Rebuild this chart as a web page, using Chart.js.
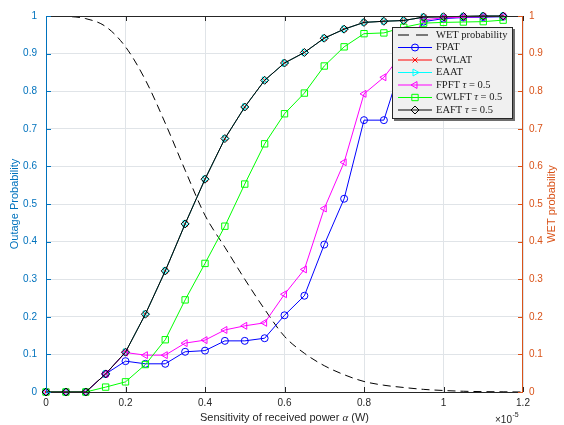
<!DOCTYPE html>
<html><head><meta charset="utf-8">
<script src="https://cdn.jsdelivr.net/npm/chart.js@4.4.0/dist/chart.umd.min.js"></script>
<style>html,body{margin:0;padding:0;background:#fff;}canvas{display:block;}</style>
</head><body>
<canvas id="c" width="564" height="425"></canvas>
<script>
// ---- data (alpha in units of 1e-5 W) ----
const alphaValues = [0,0.05,0.1,0.15,0.2,0.25,0.3,0.35,0.4,0.45,0.5,0.55,0.6,0.65,0.7,0.75,0.8,0.85,0.9,0.95,1.0,1.05,1.1,1.15];
const fpat  = [0,0,0,0.048,0.082,0.075,0.075,0.107,0.110,0.136,0.136,0.143,0.204,0.256,0.392,0.514,0.723,0.723,0.890,0.985,0.993,0.996,0.997,0.998];
const cwlat = [0,0,0,0.048,0.106,0.207,0.322,0.447,0.566,0.674,0.758,0.829,0.875,0.903,0.941,0.965,0.983,0.986,0.988,0.997,0.998,0.999,1,1];
const eaat  = [0,0,0,0.048,0.106,0.207,0.322,0.447,0.566,0.674,0.758,0.829,0.875,0.903,0.941,0.965,0.983,0.986,0.988,0.997,0.998,0.999,1,1];
const fpft  = [0,0,0,0.048,0.105,0.098,0.098,0.130,0.138,0.165,0.176,0.184,0.260,0.326,0.488,0.611,0.793,0.837,0.905,0.990,0.995,0.997,0.998,0.999];
const cwlft = [0,0,0,0.013,0.027,0.073,0.139,0.245,0.342,0.441,0.553,0.660,0.740,0.795,0.867,0.918,0.953,0.955,0.970,0.981,0.983,0.984,0.985,0.989];
const eaft  = [0,0,0,0.048,0.106,0.207,0.322,0.447,0.566,0.674,0.758,0.829,0.875,0.903,0.941,0.965,0.983,0.986,0.988,0.997,0.998,0.999,1,1];
const wetAlpha = [0,0.05,0.1,0.15,0.2,0.25,0.3,0.35,0.4,0.45,0.5,0.55,0.6,0.65,0.7,0.75,0.8,0.85,0.9,0.95,1.0,1.05,1.1,1.15,1.2];
const wetProb  = [1.0,0.999,0.993,0.972,0.918,0.83,0.715,0.59,0.47,0.385,0.30,0.22,0.148,0.103,0.07,0.046,0.028,0.018,0.012,0.007,0.004,0.002,0.001,0.0005,0];
const xTicks = [0,0.2,0.4,0.6,0.8,1,1.2];
const yTicks = [0,0.1,0.2,0.3,0.4,0.5,0.6,0.7,0.8,0.9,1];
const seriesNames = ['WET probability','FPAT','CWLAT','EAAT','FPFT τ = 0.5','CWLFT τ = 0.5','EAFT τ = 0.5'];
const xTitle = ['Sensitivity of received power ', 'α', ' (W)'];
const yTitle = 'Outage Probability';
const y2Title = 'WET probability';

const LEFT = '#0072BD', RIGHT = '#D95319', INK = '#262626', GRID = '#e0e4e8';
const SANS = '"Liberation Sans", Arial, Helvetica, sans-serif';
const SERIF = '"Liberation Serif", "Times New Roman", serif';
const fmt = v => String(Number(Number(v).toFixed(2)));

const pts = arr => arr.map((v,i)=>({x: alphaValues[i], y: v}));
function ds(label, data, color, style, radius, rot, order) {
  return {label, data: pts(data), borderColor: color, backgroundColor: 'rgba(0,0,0,0)',
    borderWidth: 1, pointStyle: style, pointRadius: radius, pointRotation: rot||0,
    pointBorderColor: color, pointBorderWidth: 1, pointBackgroundColor: 'rgba(0,0,0,0)',
    yAxisID: 'y', clip: false, order, tension: 0};
}
const datasets = [
  {label: seriesNames[0], data: wetProb.map((v,i)=>({x: wetAlpha[i], y: v})), borderColor: '#000', borderWidth: 1,
   borderDash: [8,5], pointRadius: 0, yAxisID: 'y2', order: 7, cubicInterpolationMode: 'monotone', fill: false},
  ds(seriesNames[1], fpat,  '#0000ff', 'circle',   3.5, 0,   6),
  ds(seriesNames[2], cwlat, '#ff0000', 'crossRot', 3.5, 0,   5),
  ds(seriesNames[3], eaat,  '#00ffff', 'triangle', 4,   90,  4),
  ds(seriesNames[4], fpft,  '#ff00ff', 'triangle', 4,   270, 3),
  ds(seriesNames[5], cwlft, '#00ff00', 'rect',     4.5, 0,   2),
  ds(seriesNames[6], eaft,  '#000000', 'rectRot',  4,   0,   1)
];

function marker(ctx, style, x, y, r, rot) {
  ctx.beginPath();
  if (style === 'circle') ctx.arc(x, y, r, 0, 2*Math.PI);
  else if (style === 'crossRot') { const d = r*Math.SQRT1_2; ctx.moveTo(x-d,y-d); ctx.lineTo(x+d,y+d); ctx.moveTo(x-d,y+d); ctx.lineTo(x+d,y-d); }
  else if (style === 'triangle') { let a = rot*Math.PI/180; for (let i=0;i<3;i++){ const px=x+Math.sin(a)*r, py=y-Math.cos(a)*r; if(i) ctx.lineTo(px,py); else ctx.moveTo(px,py); a += 2*Math.PI/3; } ctx.closePath(); }
  else if (style === 'rect') { const s = r*Math.SQRT1_2; ctx.rect(x-s, y-s, 2*s, 2*s); }
  else if (style === 'rectRot') { ctx.moveTo(x,y-r); ctx.lineTo(x+r,y); ctx.lineTo(x,y+r); ctx.lineTo(x-r,y); ctx.closePath(); }
  ctx.stroke();
}

const deco = {
  id: 'deco',
  afterDatasetsDraw(chart) {
    const {ctx, chartArea: a, scales} = chart;
    ctx.save();
    ctx.lineWidth = 1;
    const line = (x1,y1,x2,y2) => { ctx.beginPath(); ctx.moveTo(x1,y1); ctx.lineTo(x2,y2); ctx.stroke(); };
    ctx.strokeStyle = INK;
    scales.x.ticks.forEach(t => { const px = Math.round(scales.x.getPixelForValue(t.value)) + 0.5;
      line(px, a.bottom, px, a.bottom-5); line(px, a.top, px, a.top+5); });
    line(a.left, a.bottom+0.5, a.right, a.bottom+0.5);
    line(a.left, a.top+0.5, a.right, a.top+0.5);
    ctx.strokeStyle = LEFT;
    scales.y.ticks.forEach(t => { const py = Math.round(scales.y.getPixelForValue(t.value)) + 0.5; line(a.left, py, a.left+5, py); });
    line(a.left+0.5, a.top, a.left+0.5, a.bottom+1);
    ctx.strokeStyle = RIGHT;
    scales.y2.ticks.forEach(t => { const py = Math.round(scales.y2.getPixelForValue(t.value)) + 0.5; line(a.right, py, a.right-5, py); });
    line(a.right-0.5, a.top, a.right-0.5, a.bottom+1);
    ctx.restore();
  },
  afterDraw(chart) {
    const {ctx, chartArea: a} = chart;
    ctx.save();
    // x title with italic alpha
    const f1 = '11px ' + SANS, f2 = 'italic 11px ' + SERIF;
    ctx.font = f1; const w0 = ctx.measureText(xTitle[0]).width, w2 = ctx.measureText(xTitle[2]).width;
    ctx.font = f2; const w1 = ctx.measureText(xTitle[1]).width;
    let x = (a.left + a.right)/2 - (w0+w1+w2)/2;
    ctx.fillStyle = INK; ctx.textBaseline = 'alphabetic'; ctx.textAlign = 'left';
    ctx.font = f1; ctx.fillText(xTitle[0], x, 421); x += w0;
    ctx.font = f2; ctx.fillText(xTitle[1], x, 421); x += w1;
    ctx.font = f1; ctx.fillText(xTitle[2], x, 421);
    // exponent
    ctx.font = '10px ' + SANS; ctx.fillText('×10', 495, 423);
    const we = ctx.measureText('×10').width;
    ctx.font = '7px ' + SANS; ctx.fillText('-5', 495 + we + 0.5, 417);
    // y titles
    const cy = (a.top + a.bottom)/2;
    ctx.font = '11px ' + SANS; ctx.textAlign = 'center'; ctx.textBaseline = 'middle';
    ctx.save(); ctx.translate(15, cy); ctx.rotate(-Math.PI/2); ctx.fillStyle = LEFT; ctx.fillText(yTitle, 0, 0); ctx.restore();
    ctx.save(); ctx.translate(552, cy); ctx.rotate(-Math.PI/2); ctx.fillStyle = RIGHT; ctx.fillText(y2Title, 0, 0); ctx.restore();
    // legend
    const bx = 392, by = 27, bw = 121, bh = 92;
    ctx.fillStyle = '#6e6e6e'; ctx.fillRect(bx+2, by+2, bw, bh);
    ctx.fillStyle = '#f0f0f0'; ctx.fillRect(bx, by, bw, bh);
    ctx.strokeStyle = INK; ctx.lineWidth = 1; ctx.strokeRect(bx+0.5, by+0.5, bw-1, bh-1);
    chart.data.datasets.forEach((d, i) => {
      const ry = 35 + i*12.5;
      ctx.strokeStyle = d.borderColor; ctx.lineWidth = 1;
      ctx.beginPath();
      if (i === 0) { ctx.moveTo(398, ry); ctx.lineTo(409, ry); ctx.moveTo(416, ry); ctx.lineTo(428, ry); }
      else { ctx.moveTo(398, ry); ctx.lineTo(432, ry); }
      ctx.stroke();
      if (d.pointRadius) marker(ctx, d.pointStyle, 415, ry, d.pointRadius, d.pointRotation);
      ctx.fillStyle = '#1a1a1a'; ctx.textAlign = 'left'; ctx.textBaseline = 'middle';
      const parts = d.label.split('τ');
      let tx = 436;
      parts.forEach((p, k) => {
        if (k > 0) { ctx.font = 'italic 10.5px ' + SERIF; ctx.fillText('τ', tx, ry); tx += ctx.measureText('τ').width; }
        ctx.font = '10.5px ' + SERIF; ctx.fillText(p, tx, ry); tx += ctx.measureText(p).width;
      });
    });
    ctx.restore();
  }
};

new Chart(document.getElementById('c'), {
  type: 'line',
  data: {datasets},
  plugins: [deco],
  options: {
    responsive: false, animation: false, devicePixelRatio: 1,
    layout: {padding: {top: 16, left: 0, right: 0, bottom: 0}},
    plugins: {legend: {display: false}, tooltip: {enabled: false}},
    scales: {
      x: {type: 'linear', position: 'bottom', min: 0, max: 1.2,
        afterBuildTicks: s => { s.ticks = xTicks.map(v => ({value: v})); },
        afterFit: s => { s.height = 33; },
        grid: {color: GRID, drawTicks: false}, border: {display: false},
        ticks: {padding: 5, color: INK, font: {family: SANS, size: 10}, maxRotation: 0, autoSkip: false, callback: fmt}},
      y: {type: 'linear', position: 'left', min: 0, max: 1,
        afterBuildTicks: s => { s.ticks = yTicks.map(v => ({value: v})); },
        afterFit: s => { s.width = 46; },
        grid: {color: GRID, drawTicks: false}, border: {display: false},
        ticks: {padding: 9, color: LEFT, font: {family: SANS, size: 10}, autoSkip: false, callback: fmt}},
      y2: {type: 'linear', position: 'right', min: 0, max: 1,
        afterBuildTicks: s => { s.ticks = yTicks.map(v => ({value: v})); },
        afterFit: s => { s.width = 41; },
        grid: {display: false, drawTicks: false}, border: {display: false},
        ticks: {padding: 6, color: RIGHT, font: {family: SANS, size: 10}, autoSkip: false, callback: fmt}}
    }
  }
});
</script>
</body></html>
